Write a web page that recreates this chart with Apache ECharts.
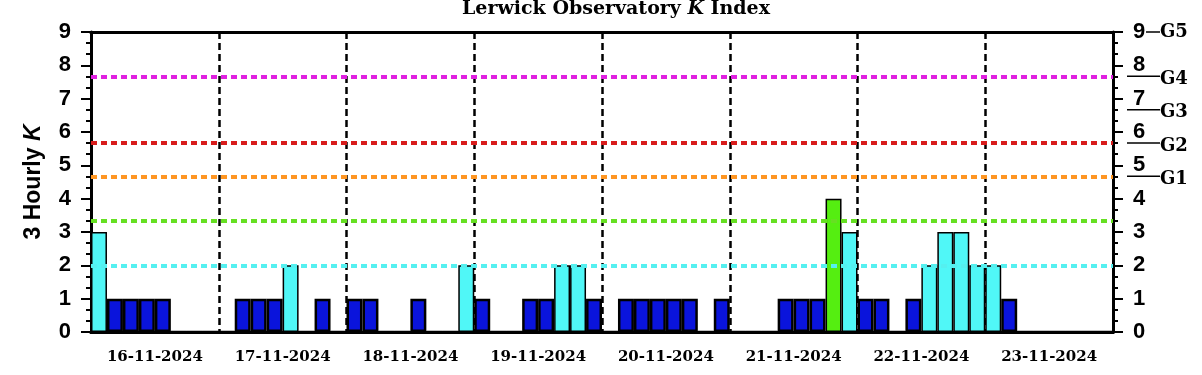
<!DOCTYPE html>
<html lang="en">
  <head>
    <meta charset="UTF-8" />
    <title>Lerwick Observatory K Index</title>
    <style>
      html, body { margin: 0; padding: 0; background: #fff; }
      #chart { width: 1202px; height: 375px; }
    </style>
  </head>
  <body>
    <div id="chart"></div>
    <script src="https://cdn.jsdelivr.net/npm/echarts@6/dist/echarts.min.js"></script>
    <script>
      // days shown on the x axis
      var dates = ['16-11-2024', '17-11-2024', '18-11-2024', '19-11-2024',
                   '20-11-2024', '21-11-2024', '22-11-2024', '23-11-2024'];
      // 3-hourly K values, 8 per day
      var kValues = [
        3, 1, 1, 1, 1, 0, 0, 0,
        0, 1, 1, 1, 2, 0, 1, 0,
        1, 1, 0, 0, 1, 0, 0, 2,
        1, 0, 0, 1, 1, 2, 2, 1,
        0, 1, 1, 1, 1, 1, 0, 1,
        0, 0, 0, 1, 1, 1, 4, 3,
        1, 1, 0, 1, 2, 3, 3, 2,
        2, 1, 0, 0, 0, 0, 0, 0
      ];
      // dotted reference levels across the plot
      var levelValues = [2, 3.33, 4.67, 5.67, 7.67];
      var levelColors = ['#55f0f0', '#66e022', '#ff9622', '#d81c1c', '#e020e0'];
      // storm scale marks on the right
      var gLevels = [4.67, 5.67, 6.67, 7.67, 9];
      var gNames = ['G1', 'G2', 'G3', 'G4', 'G5'];

      var slots = kValues.map(function (v, i) { return String(i); });

      function barColor(k) {
        if (k <= 1) return '#0a14dc';
        if (k <= 3) return '#50f7f7';
        if (k == 4) return '#55ee11';
        if (k == 5) return '#ff9622';
        if (k == 6) return '#d81c1c';
        return '#e020e0';
      }

      var black = '#000';
      var axisLine = { show: true, lineStyle: { color: black, width: 3 } };
      var serif = 'DejaVu Serif';
      var sans = 'Liberation Sans';

      function yAxis(pos) {
        return {
          type: 'value', position: pos, min: 0, max: 9, interval: 1,
          axisLine: axisLine,
          axisTick: { show: true, length: 10, lineStyle: { color: black, width: 2 } },
          minorTick: { show: true, splitNumber: 3, length: 5, lineStyle: { color: black, width: 2 } },
          splitLine: { show: false },
          axisLabel: { margin: 20, fontSize: 22, fontWeight: 'bold', fontFamily: sans, color: black }
        };
      }

      var left = yAxis('left');
      left.name = '3 Hourly {i|K}';
      left.nameLocation = 'middle';
      left.nameRotate = 90;
      left.nameGap = 46;
      left.nameTextStyle = {
        fontSize: 23, fontWeight: 'bold', fontFamily: sans, color: black,
        rich: { i: { fontSize: 23, fontWeight: 'bold', fontStyle: 'italic', fontFamily: sans, color: black } }
      };

      var chart = echarts.init(document.getElementById('chart'));
      chart.setOption({
        animation: false,
        title: {
          text: 'Lerwick Observatory {i|K} Index',
          left: 462, top: 0, padding: [0, 0, 0, 0],
          textStyle: {
            fontFamily: serif, fontWeight: 'bold', fontSize: 19, color: black,
            rich: { i: { fontFamily: serif, fontWeight: 'bold', fontStyle: 'italic', fontSize: 19, color: black } }
          }
        },
        grid: { left: 91, right: 89, top: 32, bottom: 43, containLabel: false, outerBoundsMode: 'none' },
        xAxis: [
          {
            type: 'category', data: slots, position: 'bottom',
            axisLine: axisLine,
            axisTick: { interval: 0, length: 5, lineStyle: { color: black, width: 2 } },
            axisLabel: { show: false }, splitLine: { show: false }
          },
          {
            type: 'category', data: dates, position: 'bottom',
            axisLine: axisLine,
            axisTick: { interval: 0, length: 11, lineStyle: { color: black, width: 2 } },
            axisLabel: { interval: 0, margin: 18, fontFamily: serif, fontWeight: 'bold', fontSize: 15, color: black },
            splitLine: { show: false }
          },
          {
            type: 'category', data: slots, position: 'top',
            axisLine: axisLine,
            axisTick: { interval: 0, length: 5, lineStyle: { color: black, width: 2 } },
            axisLabel: { show: false }, splitLine: { show: false }
          },
          {
            type: 'category', data: dates, position: 'top',
            axisLine: axisLine,
            axisTick: { interval: 0, length: 11, lineStyle: { color: black, width: 2 } },
            axisLabel: { show: false },
            splitLine: { show: true, interval: 0, lineStyle: { color: black, width: 2.5, type: [7, 4] } }
          }
        ],
        yAxis: [left, yAxis('right')],
        series: [{
          type: 'bar',
          xAxisIndex: 0, yAxisIndex: 0,
          barCategoryGap: '0%',
          data: kValues.map(function (k) {
            return { value: k, itemStyle: { color: barColor(k), borderWidth: k <= 1 ? 2.5 : 1.5 } };
          }),
          itemStyle: { borderColor: black, borderWidth: 1.5 },
          markLine: {
            silent: true, symbol: 'none', label: { show: false },
            data: levelValues.map(function (v, i) {
              return { yAxis: v, lineStyle: { color: levelColors[i], width: 4, type: [6, 4] } };
            })
          }
        }]
      });

      // storm scale marks beside the right axis
      var gx = chart.getWidth() - 89;
      var marks = [];
      gLevels.forEach(function (v, i) {
        var y = chart.convertToPixel({ yAxisIndex: 1 }, v);
        var top = i == gLevels.length - 1;
        marks.push({
          type: 'line', silent: true,
          shape: { x1: top ? gx + 33 : gx + 14, y1: y, x2: gx + 47, y2: y },
          style: { stroke: black, lineWidth: 1.5 }
        });
        marks.push({
          type: 'text', silent: true, x: gx + 47, y: top ? y : y + 3,
          style: { text: gNames[i], font: 'bold 18px "DejaVu Serif"', fill: black, verticalAlign: 'middle' }
        });
      });
      chart.setOption({ graphic: marks });
    </script>
  </body>
</html>
